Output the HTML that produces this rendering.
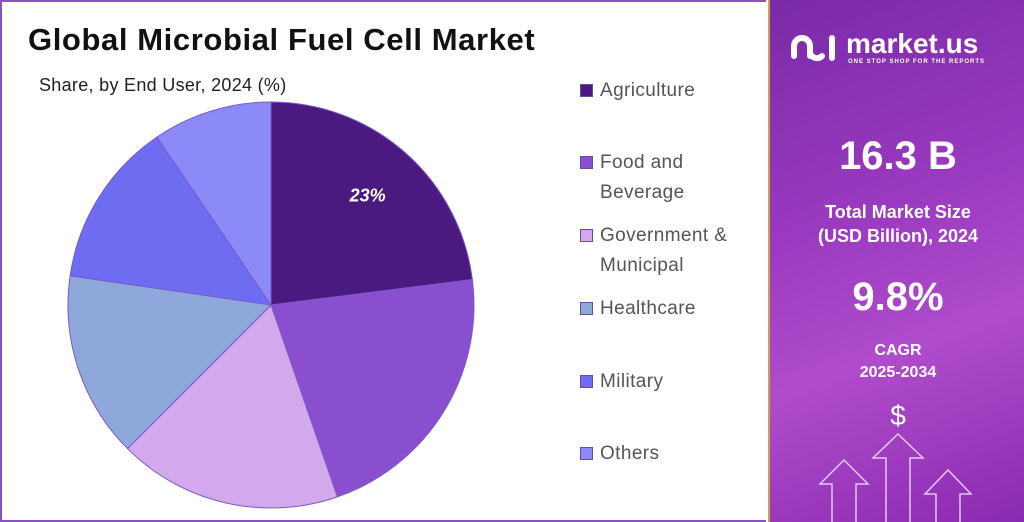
<!DOCTYPE html>
<html><head><meta charset="utf-8">
<style>
body{margin:0;width:1024px;height:522px;overflow:hidden;background:#fff;font-family:"Liberation Sans",sans-serif;position:relative}
#left{position:absolute;left:0;top:0;width:764px;height:518px;border:2px solid #8a4fcf;border-right:none;background:#fff}
#title{position:absolute;left:26px;top:20px;font-size:31px;font-weight:bold;color:#111;letter-spacing:0.6px}
#sub{position:absolute;left:37px;top:73px;font-size:18px;color:#222;letter-spacing:0.3px}
.leg{position:absolute;left:578px;font-size:19px;color:#555;line-height:30px;letter-spacing:0.4px}
.sw{position:absolute;left:0;top:8px;width:13px;height:13px;border:1px solid #6a4aa0;box-sizing:border-box}
.leg span.t{margin-left:20px;display:block}
#right{position:absolute;left:768px;top:0;width:256px;height:522px;background:linear-gradient(160deg,#7a2aa8 0%,#9a3ac0 40%,#b04ccc 65%,#8a2ab0 100%);border-left:2px solid #c9a44a;box-sizing:border-box;color:#fff;text-align:center}
.w{position:absolute;left:0;width:256px;font-weight:bold}
</style></head><body>
<div id="left">
<div id="title">Global Microbial Fuel Cell Market</div>
<div id="sub">Share, by End User, 2024 (%)</div>
<svg id="pie" width="764" height="518" style="position:absolute;left:0;top:0"></svg>
<div id="legend"></div>
</div>
<div id="right">
<div style="position:absolute;left:18px;top:30px;width:50px;height:34px">
<svg width="50" height="34" fill="none" stroke="#fff" stroke-width="6" stroke-linecap="round"><path d="M6 26V16a8 8 0 0 1 16 0v10"/><path d="M22 16v6a7 7 0 0 0 12 4"/><path d="M44 8v20"/></svg></div>
<div style="position:absolute;left:76px;top:28px;font-size:28px;font-weight:bold">market.us</div>
<div style="position:absolute;left:78px;top:59px;font-size:6px;font-weight:bold;letter-spacing:1px">ONE STOP SHOP FOR THE REPORTS</div>
<div class="w" style="top:134px;font-size:40px">16.3 B</div>
<div class="w" style="top:200px;font-size:18px;line-height:24px">Total Market Size<br>(USD Billion), 2024</div>
<div class="w" style="top:275px;font-size:40px">9.8%</div>
<div class="w" style="top:340px;font-size:16px;line-height:22px">CAGR<br>2025-2034</div>
<div class="w" style="top:400px;font-size:28px;font-weight:normal">$</div>
<svg width="256" height="100" style="position:absolute;left:0;top:422px" fill="none" stroke="#e6c8f0" stroke-width="1.5">
<path d="M62 100V62H50L74 38L98 62H86V100"/><path d="M116 100V36H103L128 12L153 36H140V100"/><path d="M166 100V72H155L178 48L201 72H190V100"/>
</svg>
</div>
<script>
const categories=["Agriculture","Food and Beverage","Government & Municipal","Healthcare","Military","Others"];
const shares=[23,21.7,17.8,14.8,13.2,9.5];
const colors=["#4b1a80","#8a4fcf","#d3a8ec","#8fa8dc","#6e6cf0","#8c8af8"];
const labels=["23%","","","","",""];
const svg=document.getElementById('pie');const NS="http://www.w3.org/2000/svg";
const cx=269,cy=303,r=203;const total=shares.reduce((a,b)=>a+b,0);
let a0=0;
shares.forEach((v,i)=>{const a1=a0+v/total*2*Math.PI;
const p=a=>[cx+r*Math.sin(a),cy-r*Math.cos(a)];const s=p(a0),e=p(a1);
const path=document.createElementNS(NS,'path');
path.setAttribute('d',`M${cx},${cy}L${s[0]},${s[1]}A${r},${r} 0 ${a1-a0>Math.PI?1:0} 1 ${e[0]},${e[1]}Z`);
path.setAttribute('fill',colors[i]);path.setAttribute('stroke','#7a5ac8');path.setAttribute('stroke-width','1');


svg.appendChild(path);
if(labels[i]){const m=(a0+a1)/2;const t=document.createElementNS(NS,'text');
t.setAttribute('x',cx+r*0.72*Math.sin(m));t.setAttribute('y',cy-r*0.72*Math.cos(m)+6);
t.setAttribute('fill','#fff');t.setAttribute('font-size','18');t.setAttribute('font-weight','bold');t.setAttribute('font-style','italic');t.setAttribute('text-anchor','middle');


t.textContent=labels[i];svg.appendChild(t);}
a0=a1;});
const legTops=[74,146,219,292,365,437];
const legText=["Agriculture","Food and<br>Beverage","Government &amp;<br>Municipal","Healthcare","Military","Others"];
const lg=document.getElementById('legend');
categories.forEach((c,i)=>{const d=document.createElement('div');d.className='leg';d.style.top=legTops[i]+'px';


d.innerHTML=`<div class="sw" style="background:${colors[i]}"></div><span class="t">${legText[i]}</span>`;lg.appendChild(d);});
</script>
</body></html>
